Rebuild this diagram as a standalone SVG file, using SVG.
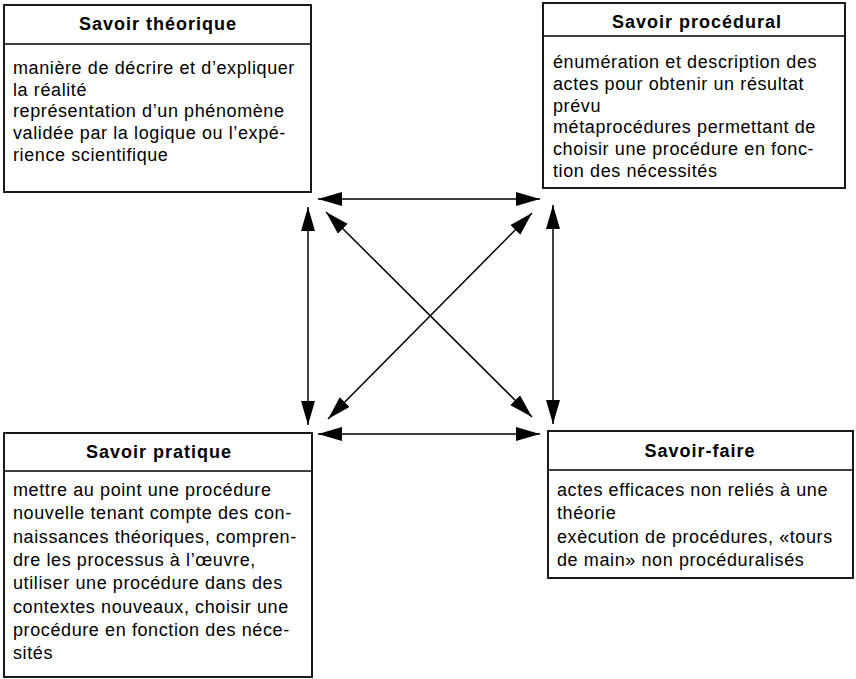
<svg xmlns="http://www.w3.org/2000/svg" width="856" height="679" viewBox="0 0 856 679">
<style>
.box{fill:#fff;stroke:#000;stroke-width:1.8}
.sep{stroke:#000;stroke-width:1.4}
.title{font-family:"Liberation Sans",Arial,sans-serif;font-weight:bold;font-size:18px;letter-spacing:1px;text-anchor:middle;fill:#000}
.body{font-family:"Liberation Sans",Arial,sans-serif;font-size:18px;letter-spacing:0.6px;fill:#000}
.conn line{stroke:#000;stroke-width:1.5;marker-start:url(#ah);marker-end:url(#ah)}
</style>
<defs>
<marker id="ah" markerUnits="userSpaceOnUse" markerWidth="25" markerHeight="15" refX="24" refY="7" orient="auto-start-reverse">
<path d="M0,0 L24,7 L0,14 z" fill="#000"/>
</marker>
</defs>
<rect width="856" height="679" fill="#fff"/>
<g id="savoir-theorique">
<rect class="box" x="4" y="5" width="307" height="187"/>
<line class="sep" x1="4" y1="44" x2="311" y2="44"/>
<text class="title" x="158" y="30">Savoir théorique</text>
<text class="body"><tspan x="13" y="74">manière de décrire et d’expliquer</tspan><tspan x="13" y="95.7">la réalité</tspan><tspan x="13" y="117.4">représentation d’un phénomène</tspan><tspan x="13" y="139.1">validée par la logique ou l’expé-</tspan><tspan x="13" y="160.8">rience scientifique</tspan></text>
</g>
<g id="savoir-procedural">
<rect class="box" x="543" y="3" width="302" height="185"/>
<line class="sep" x1="543" y1="36" x2="845" y2="36"/>
<text class="title" x="697" y="28">Savoir procédural</text>
<text class="body"><tspan x="553" y="68">énumération et description des</tspan><tspan x="553" y="89.8">actes pour obtenir un résultat</tspan><tspan x="553" y="111.6">prévu</tspan><tspan x="553" y="133.4">métaprocédures permettant de</tspan><tspan x="553" y="155.2">choisir une procédure en fonc-</tspan><tspan x="553" y="177">tion des nécessités</tspan></text>
</g>
<g id="savoir-pratique">
<rect class="box" x="4" y="433" width="308" height="244"/>
<line class="sep" x1="4" y1="471" x2="312" y2="471"/>
<text class="title" x="159" y="458">Savoir pratique</text>
<text class="body"><tspan x="13" y="496">mettre au point une procédure</tspan><tspan x="13" y="519.3">nouvelle tenant compte des con-</tspan><tspan x="13" y="542.6">naissances théoriques, compren-</tspan><tspan x="13" y="565.9">dre les processus à l’œuvre,</tspan><tspan x="13" y="589.2">utiliser une procédure dans des</tspan><tspan x="13" y="612.5">contextes nouveaux, choisir une</tspan><tspan x="13" y="635.8">procédure en fonction des néce-</tspan><tspan x="13" y="659.1">sités</tspan></text>
</g>
<g id="savoir-faire">
<rect class="box" x="548" y="431" width="305" height="147"/>
<line class="sep" x1="548" y1="470" x2="853" y2="470"/>
<text class="title" x="700" y="457">Savoir-faire</text>
<text class="body"><tspan x="557" y="496">actes efficaces non reliés à une</tspan><tspan x="557" y="519.3">théorie</tspan><tspan x="557" y="542.6">exècution de procédures, «tours</tspan><tspan x="557" y="565.9">de main» non procéduralisés</tspan></text>
</g>
<g id="connectors" class="conn">
<line x1="318" y1="199" x2="540" y2="199"/>
<line x1="318" y1="434" x2="540" y2="434"/>
<line x1="308" y1="207" x2="308" y2="425"/>
<line x1="553" y1="205" x2="553" y2="424"/>
<line x1="326" y1="212" x2="532" y2="417"/>
<line x1="532" y1="213" x2="328" y2="419"/>
</g>
</svg>
